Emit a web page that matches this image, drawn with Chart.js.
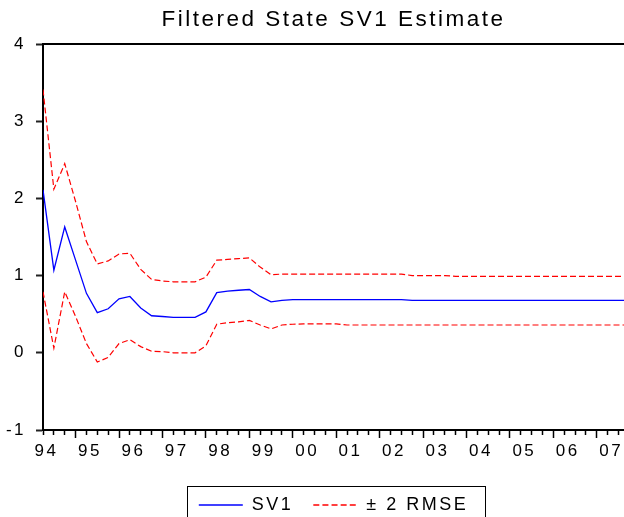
<!DOCTYPE html>
<html>
<head>
<meta charset="utf-8">
<script src="https://cdn.jsdelivr.net/npm/chart.js@4/dist/chart.umd.min.js"></script>
<style>
  html, body { margin: 0; padding: 0; overflow: hidden; background: #fff; }
  canvas { display: block; }
</style>
</head>
<body>
<canvas id="chart" width="624" height="524"></canvas>
<script>
// =====================
// DATA (quarterly, 94Q1 ..)
// =====================
const yearLabels = ["94", "95", "96", "97", "98", "99", "00", "01", "02", "03", "04", "05", "06", "07"];

const sv1 = [
  2.11, 1.07, 1.63, 1.20, 0.77, 0.52, 0.57, 0.70, 0.73, 0.58,
  0.48, 0.47, 0.46, 0.46, 0.46, 0.53, 0.78, 0.80, 0.81, 0.82,
  0.73, 0.66, 0.68, 0.69, 0.69, 0.69, 0.69, 0.69, 0.69, 0.69,
  0.69, 0.69, 0.69, 0.69, 0.68, 0.68, 0.68, 0.68, 0.68, 0.68,
  0.68, 0.68, 0.68, 0.68, 0.68, 0.68, 0.68, 0.68, 0.68, 0.68,
  0.68, 0.68, 0.68, 0.68, 0.68
];

const upper = [
  3.41, 2.12, 2.45, 1.96, 1.44, 1.15, 1.19, 1.28, 1.29, 1.08,
  0.95, 0.93, 0.92, 0.92, 0.92, 0.98, 1.20, 1.21, 1.22, 1.23,
  1.11, 1.01, 1.02, 1.02, 1.02, 1.02, 1.02, 1.02, 1.02, 1.02,
  1.02, 1.02, 1.02, 1.02, 1.00, 1.00, 1.00, 1.00, 0.99, 0.99,
  0.99, 0.99, 0.99, 0.99, 0.99, 0.99, 0.99, 0.99, 0.99, 0.99,
  0.99, 0.99, 0.99, 0.99, 0.99
];

const lower = [
  0.79, 0.06, 0.79, 0.47, 0.12, -0.12, -0.06, 0.12, 0.17, 0.08,
  0.02, 0.015, 0.00, 0.00, 0.00, 0.09, 0.37, 0.39, 0.40, 0.42,
  0.36, 0.31, 0.36, 0.37, 0.375, 0.375, 0.375, 0.375, 0.36, 0.36,
  0.36, 0.36, 0.36, 0.36, 0.36, 0.36, 0.36, 0.36, 0.36, 0.36,
  0.36, 0.36, 0.36, 0.36, 0.36, 0.36, 0.36, 0.36, 0.36, 0.36,
  0.36, 0.36, 0.36, 0.36, 0.36
];

const titleText = "Filtered State SV1 Estimate";

// quarter index -> point
const toPoints = arr => arr.map((v, i) => ({ x: i, y: v }));

// legend sample is stroked there and back, so its dash has to fold onto itself
const legendLineWidth = 44;
const legendDash = [6, (2 * legendLineWidth - 6) / 9 - 6];

// =====================
// PLUGINS
// =====================
// EViews draws text with wide letter spacing
const spacing = {
  id: "spacing",
  beforeLayout(chart) { chart.ctx.letterSpacing = "2.5px"; },
  beforeDraw(chart) { chart.ctx.letterSpacing = "2.5px"; }
};

// frame round the legend
const legendBox = {
  id: "legendBox",
  afterDraw(chart) {
    const boxes = chart.legend.legendHitBoxes;
    if (!boxes || !boxes.length) return;
    const first = boxes[0];
    const last = boxes[boxes.length - 1];
    const left = first.left - 12;
    const right = last.left + last.width + 17;
    const top = first.top - 10;
    const ctx = chart.ctx;
    ctx.save();
    ctx.strokeStyle = "#000";
    ctx.lineWidth = 1;
    ctx.strokeRect(Math.round(left) + 0.5, Math.round(top) + 0.5, Math.round(right - left), chart.height - top + 20);
    ctx.restore();
  }
};

// =====================
// CHART
// =====================
Chart.defaults.font.family = "'Liberation Sans', Arial, sans-serif";
Chart.defaults.color = "#000";

new Chart(document.getElementById("chart"), {
  type: "line",
  data: {
    datasets: [
      {
        label: "SV1",
        data: toPoints(sv1),
        borderColor: "#0000ff",
        backgroundColor: "#0000ff",
        borderWidth: 1.3,
        pointRadius: 0,
        tension: 0
      },
      {
        label: "\u00b1 2 RMSE",
        data: toPoints(upper),
        borderColor: "#ff0000",
        backgroundColor: "#ff0000",
        borderWidth: 1.2,
        borderDash: [6, 3],
        pointRadius: 0,
        tension: 0
      },
      {
        label: "lower",
        data: toPoints(lower),
        borderColor: "#ff0000",
        backgroundColor: "#ff0000",
        borderWidth: 1.2,
        borderDash: [6, 3],
        pointRadius: 0,
        tension: 0
      }
    ]
  },
  options: {
    responsive: false,
    animation: false,
    devicePixelRatio: 1,
    layout: { padding: 0 },
    plugins: {
      title: { display: false },
      tooltip: { enabled: false },
      legend: {
        position: "bottom",
        fullSize: false,
        labels: {
          usePointStyle: true,
          pointStyle: "line",
          pointStyleWidth: legendLineWidth,
          font: { size: 18 },
          color: "#000",
          padding: 20,
          filter: item => item.datasetIndex !== 2,
          generateLabels: chart =>
            Chart.defaults.plugins.legend.labels.generateLabels(chart).map(item =>
              item.datasetIndex === 1 ? { ...item, lineDash: legendDash, lineWidth: 1.3 } : { ...item, lineWidth: 1.4 })
        }
      }
    },
    scales: {
      x: {
        type: "linear",
        position: "bottom",
        min: 0,
        max: 53.5,
        afterBuildTicks: s => {
          const t = [];
          for (let i = 0; i <= 53; i++) t.push({ value: i });
          s.ticks = t;
        },
        afterFit: s => { s.height = 46; },
        ticks: {
          autoSkip: false,
          maxRotation: 0,
          labelOffset: 3.5,
          padding: 3,
          color: "#000",
          font: { size: 17 },
          callback: v => (v % 4 === 0 ? yearLabels[v / 4] : "")
        },
        grid: {
          drawOnChartArea: false,
          tickLength: 8,
          tickColor: "#000",
          tickWidth: 1.5,
          tickBorderDash: c => (c.tick && c.tick.value % 4 === 3 ? [] : [4, 20])
        },
        border: { color: "#000", width: 2 }
      },
      xTop: {
        type: "linear",
        position: "top",
        min: 0,
        max: 53.5,
        afterFit: s => { s.height = 44; },
        ticks: { display: false },
        grid: { drawOnChartArea: false, drawTicks: false },
        border: { color: "#000", width: 2 },
        title: {
          display: true,
          text: titleText,
          color: "#000",
          font: { size: 22.5 },
          padding: { top: 6, bottom: 0 }
        }
      },
      y: {
        min: -1,
        max: 4,
        afterFit: s => { s.width = 43; },
        ticks: {
          stepSize: 1,
          padding: 10,
          color: "#000",
          font: { size: 17 }
        },
        grid: {
          drawOnChartArea: false,
          tickLength: 7,
          tickColor: "#222",
          tickWidth: 2
        },
        border: { color: "#000", width: 2 }
      }
    }
  },
  plugins: [spacing, legendBox]
});
</script>
</body>
</html>
